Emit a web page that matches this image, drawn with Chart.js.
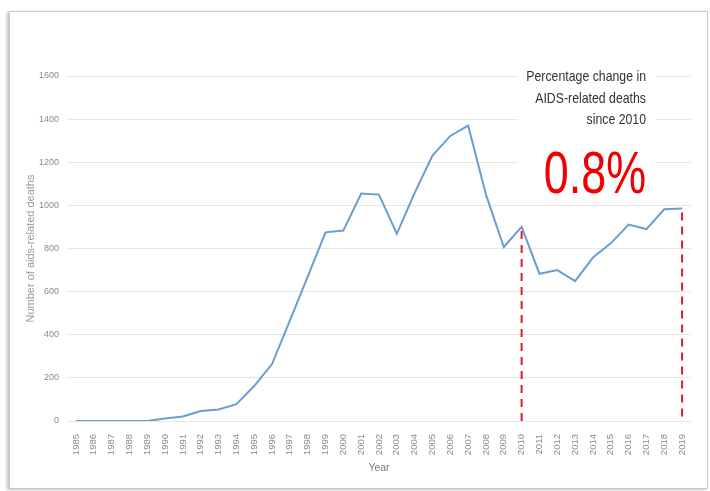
<!DOCTYPE html>
<html>
<head>
<meta charset="utf-8">
<script src="https://cdn.jsdelivr.net/npm/chart.js@4/dist/chart.umd.min.js"></script>
<style>
  html, body { margin: 0; padding: 0; background: #fff; }
  #frame {
    position: absolute; left: 9px; top: 11px; width: 697px; height: 476px;
    border: 1px solid #c9c9c9;
    box-shadow: -2px 1px 3px rgba(0,0,0,0.25);
  }
  #wrap { position: absolute; left: 0; top: 0; width: 710px; height: 491px; }
</style>
</head>
<body>
<div id="frame"></div>
<div id="wrap"><canvas id="chart" width="710" height="491"></canvas></div>
<script>
const years = ["1985","1986","1987","1988","1989","1990","1991","1992","1993","1994",
  "1995","1996","1997","1998","1999","2000","2001","2002","2003","2004",
  "2005","2006","2007","2008","2009","2010","2011","2012","2013","2014",
  "2015","2016","2017","2018","2019"];
const deaths = [0, 0, 0, 0, 0, 12, 21, 46, 53, 78,
  162, 264, 465, 670, 875, 883, 1055, 1050, 868, 1058,
  1231, 1322, 1370, 1050, 807, 900, 683, 700, 649, 758,
  824, 911, 890, 982, 985];
const markedYears = ["2010", "2019"];
const noteLines = ["Percentage change in", "AIDS-related deaths", "since 2010"];
const noteValue = "0.8%";

const ctx = document.getElementById("chart");

// squeezed text, the reference uses a narrow font we don't have
function narrowText(c, text, x, y, sx) {
  c.save();
  c.translate(x, y);
  c.scale(sx, 1);
  c.fillText(text, 0, 0);
  c.restore();
}

// white note box, the big red number and the dashed drop lines
const notePlugin = {
  id: "note",
  beforeDatasetsDraw(chart) {
    const c = chart.ctx;
    const area = chart.chartArea;
    const xs = chart.scales.x, ys = chart.scales.y;
    const right = area.right - 45;

    c.save();
    c.fillStyle = "#fff";
    c.fillRect(right - 128, area.top - 14, 138, 131);

    c.fillStyle = "#333";
    c.textAlign = "right";
    c.textBaseline = "alphabetic";
    c.font = "15px 'Liberation Sans', sans-serif";
    noteLines.forEach((t, i) => narrowText(c, t, right, area.top + 5 + i * 21.5, 0.82));

    c.fillStyle = "#f00000";
    c.font = "59px 'Liberation Sans', sans-serif";
    narrowText(c, noteValue, right, area.top + 117, 0.76);

    c.strokeStyle = "#d9202a";
    c.lineWidth = 2;
    c.setLineDash([8, 6]);
    markedYears.forEach(y => {
      const i = years.indexOf(y);
      const px = xs.getPixelForValue(i);
      c.beginPath();
      c.moveTo(px, ys.getPixelForValue(deaths[i]) + 4);
      c.lineTo(px, area.bottom);
      c.stroke();
    });
    c.restore();
  }
};

new Chart(ctx, {
  type: "line",
  data: {
    labels: years,
    datasets: [{
      data: deaths,
      borderColor: "#6b9dcd",
      borderWidth: 2,
      pointRadius: 0,
      tension: 0,
      fill: false
    }]
  },
  options: {
    responsive: false,
    animation: false,
    layout: { padding: { left: 18, right: 19, top: 76, bottom: 0 } },
    plugins: { legend: { display: false }, tooltip: { enabled: false } },
    scales: {
      x: {
        offset: true,
        grid: { display: false },
        border: { display: false },
        ticks: {
          autoSkip: false, maxRotation: 90, minRotation: 90, padding: 5,
          color: "#8a8a8a", font: { family: "'Liberation Sans', sans-serif", size: 9.5 }
        },
        title: {
          display: true, text: "Year", color: "#7a7a7a",
          font: { family: "'Liberation Sans', sans-serif", size: 10.5 },
          padding: { top: 0, bottom: 17 }
        },
        afterFit(s) { s.height = 70; }
      },
      y: {
        min: 0, max: 1600,
        ticks: {
          stepSize: 200, padding: 8, color: "#8a8a8a",
          font: { family: "'Liberation Sans', sans-serif", size: 9 },
          callback: v => String(v)
        },
        grid: { color: "#e6e6e6", lineWidth: 1, drawTicks: false },
        border: { display: false },
        title: {
          display: true, text: "Number of aids-related deaths", color: "#9a9a9a",
          font: { family: "'Liberation Sans', sans-serif", size: 11 },
          padding: { top: 6, bottom: 0 }
        },
        afterFit(s) { s.width = 49; }
      }
    }
  },
  plugins: [notePlugin]
});
</script>
</body>
</html>
